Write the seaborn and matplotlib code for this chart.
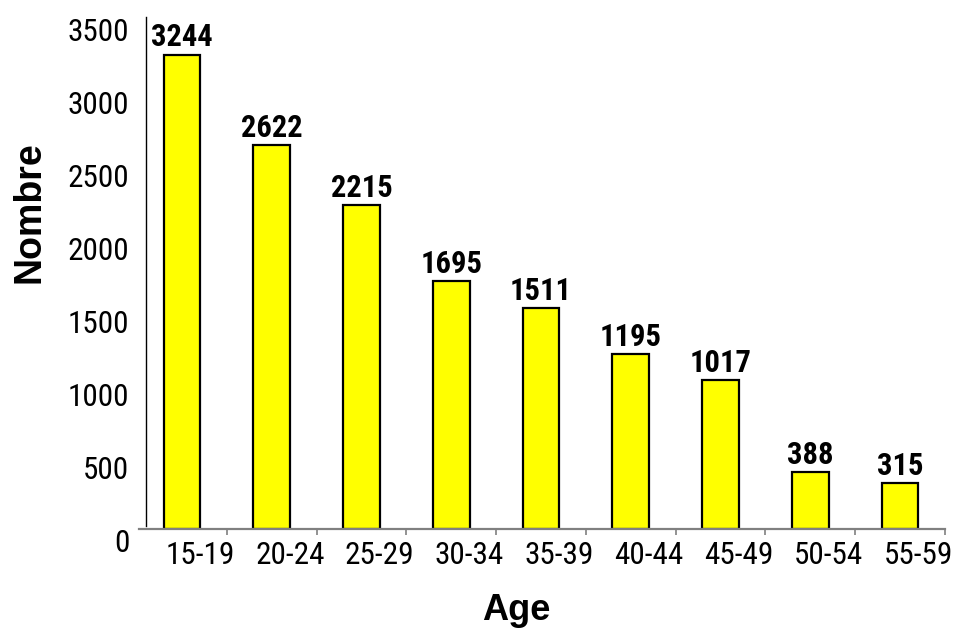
import matplotlib
matplotlib.use("Agg")
import matplotlib.pyplot as plt
import matplotlib.transforms as mtransforms
from matplotlib.font_manager import FontProperties
from matplotlib.ticker import FixedLocator
import seaborn as sns
import pandas as pd

# Age groups and counts
age_groups = ["15-19", "20-24", "25-29", "30-34", "35-39", "40-44", "45-49", "50-54", "55-59"]
counts = [3244, 2622, 2215, 1695, 1511, 1195, 1017, 388, 315]
y_ticks = [0, 500, 1000, 1500, 2000, 2500, 3000, 3500]

df = pd.DataFrame({"Age": age_groups, "Nombre": counts})

sns.set_theme(style="white")

narrow_reg = FontProperties(family=["Roboto Condensed", "DejaVu Sans"], weight="normal", size=22.5)
narrow_bold = FontProperties(family=["Roboto Condensed", "DejaVu Sans"], weight="bold", size=22)
sans_bold = FontProperties(family=["Liberation Sans", "DejaVu Sans"], weight="bold", size=26)

fig = plt.figure(figsize=(9.55, 6.32), dpi=100)
ax = fig.add_axes([0.1455, 0.163, 0.844, 0.81])

sns.barplot(data=df, x="Age", y="Nombre", color="#FFFF00", saturation=1,
            edgecolor="black", linewidth=1.6, width=0.41, ax=ax)

ax.set_xlim(-0.48, 8.5)
ax.set_ylim(0, 3500)

# value labels above each bar
for i, v in enumerate(counts):
    ax.annotate(str(v), (i, v), xytext=(0, 1.5), textcoords="offset points",
                ha="center", va="bottom", color="black", fontproperties=narrow_bold)

# spines: bottom axis in grey, left axis moved in, others hidden
for s in ["top", "right"]:
    ax.spines[s].set_visible(False)
ax.spines["bottom"].set_color("#808080")
ax.spines["bottom"].set_linewidth(1.6)
ax.spines["left"].set_color("black")
ax.spines["left"].set_linewidth(1.0)
ax.spines["left"].set_position(("data", -0.40))
ax.spines["left"].set_bounds(20, 3500)

# y ticks
ax.set_yticks(y_ticks)
ax.set_yticklabels([str(t) for t in y_ticks], color="black", fontproperties=narrow_reg)
ax.tick_params(axis="y", length=0, pad=12)
dy = mtransforms.ScaledTranslation(0, -12 / 100, fig.dpi_scale_trans)
for lbl in ax.get_yticklabels():
    lbl.set_transform(lbl.get_transform() + dy)

# x ticks: labels at categories, short marks between categories
ax.set_xticks(range(len(age_groups)))
ax.set_xticklabels(age_groups, color="black", fontproperties=narrow_reg)
ax.tick_params(axis="x", which="major", length=0, pad=9)
ax.xaxis.set_minor_locator(FixedLocator([i + 0.5 for i in range(len(age_groups))]))
ax.tick_params(axis="x", which="minor", bottom=True, length=4, width=1.2, color="#808080")
dx = mtransforms.ScaledTranslation(18 / 100, 0, fig.dpi_scale_trans)
for lbl in ax.get_xticklabels():
    lbl.set_transform(lbl.get_transform() + dx)

ax.set_xlabel("")
ax.set_ylabel("")
fig.text(516 / 955, 1 - 610 / 632, "Age", ha="center", va="center", color="black",
         fontproperties=sans_bold)
fig.text(30 / 955, 1 - 212 / 632, "Nombre", ha="center", va="center", rotation=90,
         color="black", fontproperties=FontProperties(family=["Liberation Sans", "DejaVu Sans"],
                                                      weight="bold", size=27))

fig.savefig("out.png", dpi=100)
